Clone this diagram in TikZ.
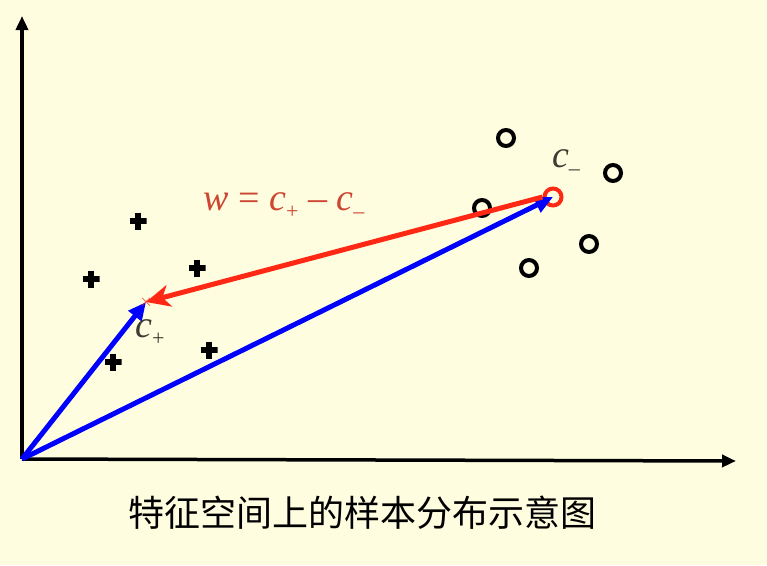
\documentclass[tikz,border=0pt]{standalone}
\usepackage{fontspec}
\newfontfamily\cjk{Noto Sans CJK SC}
\newfontfamily\tms{Liberation Serif}
\usetikzlibrary{arrows.meta}
\definecolor{bg}{RGB}{255,253,224}
\definecolor{myred}{RGB}{255,40,20}
\definecolor{labred}{RGB}{205,70,50}
\definecolor{labgray}{RGB}{60,60,50}
\newcommand{\sbs}[1]{\raisebox{-8pt}{\fontsize{22}{24}\selectfont #1}}
\begin{document}
\begin{tikzpicture}[x=1pt,y=-1pt,
  axis/.style={line width=3.5pt,-{Triangle[length=14pt,width=12pt]}},
  bluearr/.style={blue,line width=5pt,-{Triangle[length=18pt,width=16pt]}},
  redarr/.style={myred,line width=5pt,-{Stealth[length=24pt,width=22pt,inset=7pt]}},
  pt/.style={circle,draw=black,line width=4pt,minimum size=16pt,inner sep=0pt},
  plusmark/.style={inner sep=0pt,minimum size=17pt,
    path picture={\draw[line width=6pt] (path picture bounding box.west)--(path picture bounding box.east);
                  \draw[line width=6pt] (path picture bounding box.north)--(path picture bounding box.south);}},
  lab/.style={font=\tms\itshape\fontsize{38}{40}\selectfont,inner sep=0pt},
]
\fill[bg] (0,0) rectangle (767,565);
\useasboundingbox (0,0) rectangle (767,565);
% axes
\coordinate (O) at (22,459);
\coordinate (ytop) at (22,16);
\coordinate (xend) at (736,461);
\draw[axis] (O) -- (ytop);
\draw[axis] (O) -- (xend);
% plus samples
\node[plusmark] (p1) at (138,221) {};
\node[plusmark] (p2) at (91,279) {};
\node[plusmark] (p3) at (197,268) {};
\node[plusmark] (p4) at (113,362) {};
\node[plusmark] (p5) at (209,350) {};
% circle samples
\node[pt] (q1) at (506,138) {};
\node[pt] (q2) at (613,173) {};
\node[pt] (q3) at (482,208) {};
\node[pt] (q4) at (589,244) {};
\node[pt] (q5) at (529,268) {};
% centres
\node[circle,draw=myred,line width=4pt,minimum size=17pt,inner sep=0pt] (cm) at (553,197) {};
\coordinate (cp) at (146,302);
% vectors
\draw[bluearr] (O) -- (cp);
\draw[bluearr] (O) -- (cm.center);
\draw[redarr] (cm.west) -- (cp);
\node[myred,font=\bfseries\LARGE,inner sep=0pt] (cpx) at (cp) {$\times$};
% labels
\node[lab,labgray] (lm) at (566,163) {c\sbs{\textup{\tms –}}};
\node[lab,labgray] (lp) at (150,333) {c\sbs{\textup{+}}};
\node[lab,labred] (lw) at (284,206) {w\ \textup{=}\ c\sbs{\textup{+}}\ \textup{–}\ c\sbs{\textup{–}}};
\node[font=\cjk\fontsize{36}{40}\selectfont,text=black] (cap) at (362,513) {特征空间上的样本分布示意图};
\end{tikzpicture}
\end{document}
